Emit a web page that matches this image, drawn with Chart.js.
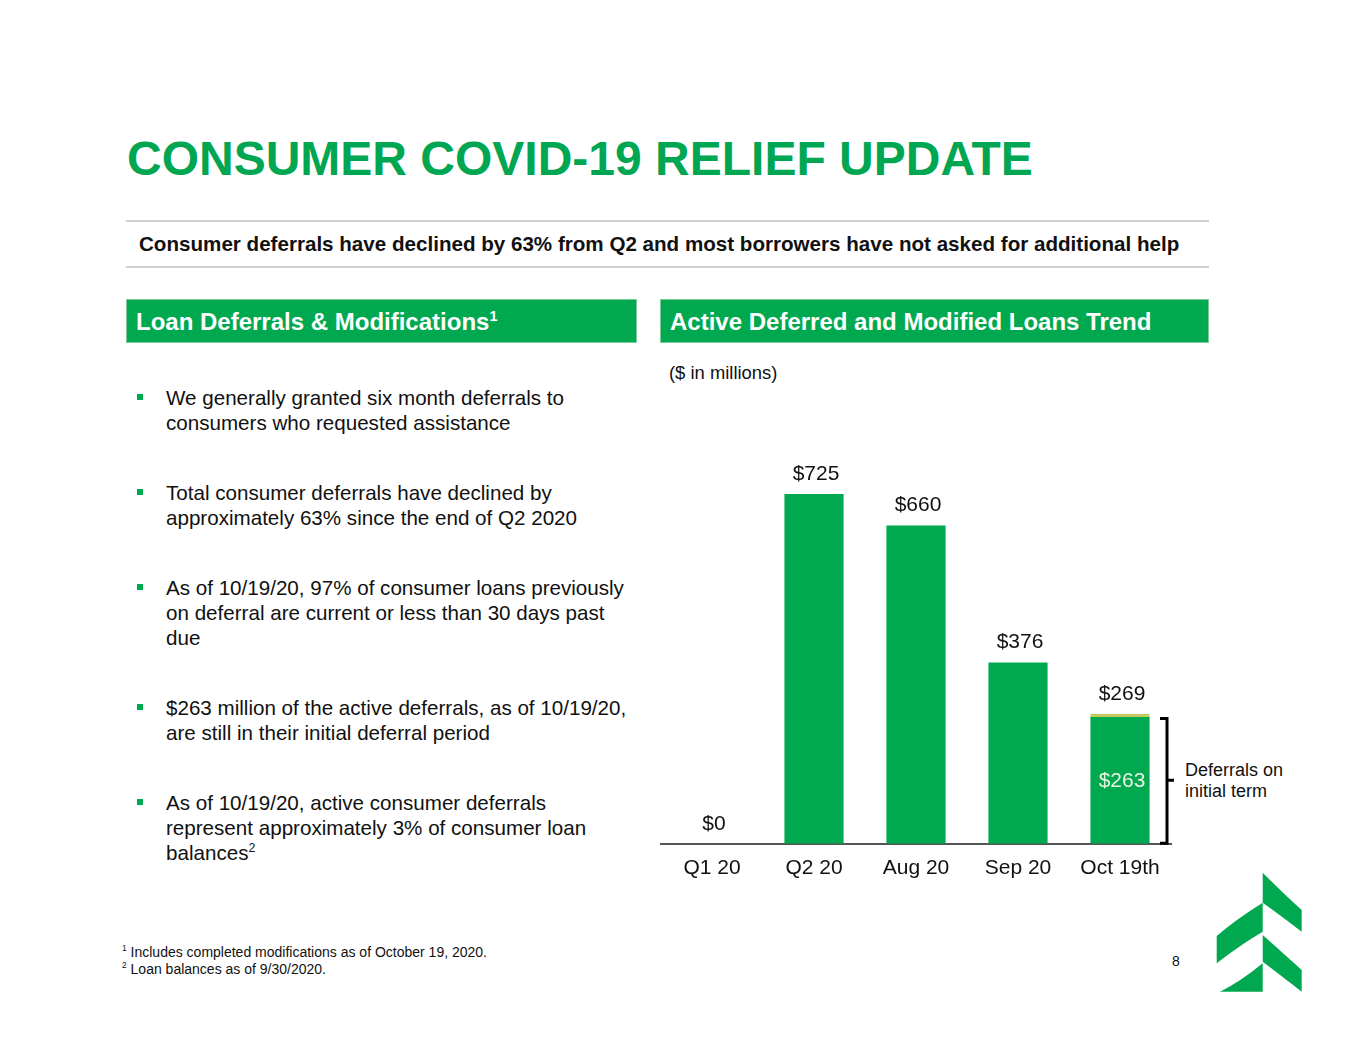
<!DOCTYPE html>
<html>
<head>
<meta charset="utf-8">
<script src="https://cdn.jsdelivr.net/npm/chart.js@4/dist/chart.umd.min.js"></script>
<style>
  body { margin: 0; background: #fff; font-family: "Liberation Sans", Arial, sans-serif; }
  .page { position: relative; width: 1365px; height: 1055px; overflow: hidden; }
  .abs { position: absolute; white-space: nowrap; }
  .title { left: 127px; top: 131px; font-size: 48px; font-weight: bold; color: #00a651; }
  .rule { left: 126px; width: 1083px; height: 2px; background: #cfcfcf; }
  .sub { left: 139px; top: 232px; font-size: 20.6px; font-weight: bold; color: #111; }
  .box { top: 299px; height: 42px; background: #00a94f; border: 1px solid #7cc99a; color: #fff;
         font-size: 24px; font-weight: bold; line-height: 43px; padding-left: 9px; box-sizing: content-box; }
  .bul { left: 137px; width: 6px; height: 6px; background: #00a94f; }
  .txt { left: 166px; font-size: 20.6px; line-height: 25px; color: #111; }
  .note { left: 122px; font-size: 14px; color: #111; }
  sup { font-size: 60%; line-height: 0; }
  #chartWrap { position: absolute; left: 640px; top: 440px; width: 700px; height: 460px; }
</style>
</head>
<body>
<div class="page">
  <div class="abs title">CONSUMER COVID-19 RELIEF UPDATE</div>
  <div class="abs rule" style="top:220px"></div>
  <div class="abs sub">Consumer deferrals have declined by 63% from Q2 and most borrowers have not asked for additional help</div>
  <div class="abs rule" style="top:266px"></div>

  <div class="abs box" style="left:126px;width:500px">Loan Deferrals &amp; Modifications<sup>1</sup></div>
  <div class="abs box" style="left:660px;width:538px">Active Deferred and Modified Loans Trend</div>

  <div class="abs" style="left:669px;top:362px;font-size:18.4px;color:#111">($ in millions)</div>

  <div class="abs bul" style="top:394px"></div>
  <div class="abs txt" style="top:385px">We generally granted six month deferrals to<br>consumers who requested assistance</div>
  <div class="abs bul" style="top:489px"></div>
  <div class="abs txt" style="top:480px">Total consumer deferrals have declined by<br>approximately 63% since the end of Q2 2020</div>
  <div class="abs bul" style="top:584px"></div>
  <div class="abs txt" style="top:575px">As of 10/19/20, 97% of consumer loans previously<br>on deferral are current or less than 30 days past<br>due</div>
  <div class="abs bul" style="top:704px"></div>
  <div class="abs txt" style="top:695px">$263 million of the active deferrals, as of 10/19/20,<br>are still in their initial deferral period</div>
  <div class="abs bul" style="top:799px"></div>
  <div class="abs txt" style="top:790px">As of 10/19/20, active consumer deferrals<br>represent approximately 3% of consumer loan<br>balances<sup>2</sup></div>

  <div class="abs" style="left:1185px;top:760px;font-size:18px;line-height:21px;color:#111">Deferrals on<br>initial term</div>

  <div class="abs note" style="top:944px"><sup>1</sup> Includes completed modifications as of October 19, 2020.</div>
  <div class="abs note" style="top:961px"><sup>2</sup> Loan balances as of 9/30/2020.</div>
  <div class="abs" style="left:1172px;top:953px;font-size:14px;color:#111">8</div>

  <svg class="abs" style="left:0;top:0" width="1365" height="1055">
    <g fill="#00a94f">
      <path d="M1262.7 872.7 Q1285 895 1301.7 910 L1301.7 931.7 Q1280 915 1262.7 902.7 Z"/>
      <path d="M1262.7 902.7 Q1235 920 1216.7 936 L1216.7 963.3 Q1240 945 1262.7 931.7 Z"/>
      <path d="M1262.7 935 Q1285 955 1301.7 970 L1301.7 991.7 Q1280 975 1262.7 961.7 Z"/>
      <path d="M1262.7 963.3 Q1240 982 1220 991.7 L1262.7 991.7 Z"/>
    </g>
  </svg>

  <div id="chartWrap"><canvas id="trendChart"></canvas></div>
</div>

<script>
const categories = ['Q1 20', 'Q2 20', 'Aug 20', 'Sep 20', 'Oct 19th'];
const initialTermValues = [0, 725, 660, 376, 263];
const extendedValues = [0, 0, 0, 0, 6];
const totalLabels = ['$0', '$725', '$660', '$376', '$269'];
const insideLabels = ['', '', '', '', '$263'];

const green = '#00a94f';
const olive = '#c3ca5c';

// totals above bars, $263 inside, and the bracket for Oct 19th
const barLabels = {
  id: 'barLabels',
  afterDatasetsDraw(chart) {
    const ctx = chart.ctx;
    const x = chart.scales.x, y = chart.scales.y;
    ctx.save();
    ctx.font = '21px "Liberation Sans", Arial';
    ctx.textAlign = 'center';
    ctx.textBaseline = 'middle';
    categories.forEach((c, i) => {
      const total = initialTermValues[i] + extendedValues[i];
      ctx.fillStyle = '#111';
      ctx.fillText(totalLabels[i], x.getPixelForValue(i) + 2, y.getPixelForValue(total) - 20);
      if (insideLabels[i]) {
        ctx.fillStyle = '#e8f5e0';
        ctx.fillText(insideLabels[i], x.getPixelForValue(i) + 2, y.getPixelForValue(initialTermValues[i] / 2) + 1);
      }
    });
    // bracket
    const i = 4;
    const bx = x.getPixelForValue(i) + 47;
    const top = y.getPixelForValue(initialTermValues[i]);
    const bot = y.getPixelForValue(0);
    ctx.strokeStyle = '#000';
    ctx.lineWidth = 3;
    ctx.beginPath();
    ctx.moveTo(bx - 7, top + 1.5);
    ctx.lineTo(bx, top + 1.5);
    ctx.lineTo(bx, bot - 0.5);
    ctx.lineTo(bx - 7, bot - 0.5);
    ctx.moveTo(bx, (top + bot) / 2);
    ctx.lineTo(bx + 7, (top + bot) / 2);
    ctx.stroke();
    ctx.restore();
  }
};

new Chart('trendChart', {
  type: 'bar',
  data: {
    labels: categories,
    datasets: [
      { data: initialTermValues, backgroundColor: green, categoryPercentage: 1, barPercentage: 0.58 },
      { data: extendedValues, backgroundColor: olive, categoryPercentage: 1, barPercentage: 0.58 }
    ]
  },
  options: {
    responsive: true,
    maintainAspectRatio: false,
    animation: false,
    layout: { padding: { left: 21, right: 169, top: 0, bottom: 15 } },
    plugins: { legend: { display: false }, tooltip: { enabled: false } },
    scales: {
      x: {
        stacked: true,
        grid: { display: false },
        border: { display: true, color: '#555', width: 2 },
        ticks: { color: '#111', font: { size: 21, family: '"Liberation Sans", Arial' }, padding: 4 }
      },
      y: { stacked: true, display: false, min: 0, max: 837 }
    }
  },
  plugins: [barLabels]
});
</script>
</body>
</html>
